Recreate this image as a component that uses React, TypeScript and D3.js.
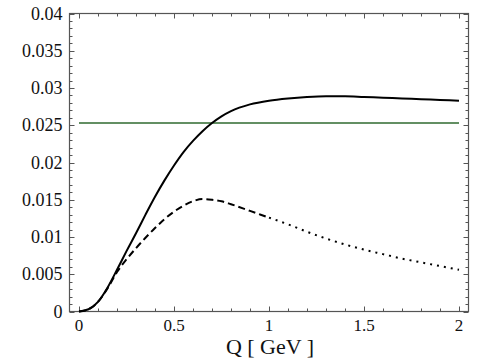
import React from "react";
import * as d3 from "d3";

// Q [GeV] sample points
const qValues = [0, 0.05, 0.1, 0.15, 0.2, 0.25, 0.3, 0.35, 0.4, 0.45, 0.5, 0.55, 0.6, 0.65, 0.7, 0.75, 0.8, 0.9, 1.0, 1.1, 1.2, 1.3, 1.4, 1.5, 1.6, 1.7, 1.8, 1.9, 2.0];
// solid curve
const solidValues = [0, 0.0003, 0.0013, 0.0032, 0.0056, 0.0081, 0.0105, 0.0130, 0.0154, 0.0176, 0.0196, 0.0214, 0.0229, 0.0242, 0.0253, 0.0262, 0.0269, 0.0278, 0.0283, 0.0286, 0.0288, 0.0289, 0.0289, 0.0288, 0.0287, 0.0286, 0.0285, 0.0284, 0.0283];
// dashed (Q <= 1) / dotted (Q >= 1) curve
const lowerValues = [0, 0.0003, 0.0013, 0.0031, 0.0053, 0.0070, 0.0085, 0.0099, 0.0112, 0.0124, 0.0134, 0.0142, 0.0148, 0.0151, 0.0150, 0.0148, 0.0144, 0.0135, 0.0126, 0.0117, 0.0107, 0.0098, 0.0090, 0.0083, 0.0077, 0.0071, 0.0066, 0.0061, 0.0056];
const dashedEnd = 1.0;
// horizontal reference level
const refLevel = 0.0253;

const xTicks = [0, 0.5, 1, 1.5, 2];
const xTickLabels = ["0", "0.5", "1", "1.5", "2"];
const yTicks = [0, 0.005, 0.01, 0.015, 0.02, 0.025, 0.03, 0.035, 0.04];
const yTickLabels = ["0", "0.005", "0.01", "0.015", "0.02", "0.025", "0.03", "0.035", "0.04"];
const xLabel = "Q [ GeV ]";

const W = 484;
const H = 360;
const frame = { left: 69.5, right: 468.5, top: 13.5, bottom: 311.5 };

const App = () => {
  const svgRef = React.useRef<SVGSVGElement>(null);

  React.useEffect(() => {
    const x = d3.scaleLinear().domain([-0.05, 2.05]).range([frame.left, frame.right]);
    const y = d3.scaleLinear().domain([0, 0.04]).range([frame.bottom, frame.top]);

    const svg = d3.select(svgRef.current);
    svg.selectAll("*").remove();

    const font = "Liberation Serif, Times New Roman, Times, serif";
    const frameColor = "#555";

    // minor ticks every 0.1 in Q and 0.001 in y, major every 5th
    const xMinor = d3.range(0, 2.05, 0.1);
    const yMinor = d3.range(0, 0.0405, 0.001);

    const tickG = svg.append("g").attr("stroke", frameColor).attr("stroke-width", 1);
    xMinor.forEach((v, i) => {
      const len = i % 5 === 0 ? 5 : 3;
      const px = Math.round(x(v)) + 0.5;
      tickG.append("line").attr("x1", px).attr("x2", px).attr("y1", frame.bottom).attr("y2", frame.bottom - len);
      tickG.append("line").attr("x1", px).attr("x2", px).attr("y1", frame.top).attr("y2", frame.top + len);
    });
    yMinor.forEach((v, i) => {
      const len = i % 5 === 0 ? 5 : 3;
      const py = Math.round(y(v)) + 0.5;
      tickG.append("line").attr("x1", frame.left).attr("x2", frame.left + len).attr("y1", py).attr("y2", py);
      tickG.append("line").attr("x1", frame.right).attr("x2", frame.right - len).attr("y1", py).attr("y2", py);
    });

    // frame
    svg
      .append("rect")
      .attr("x", frame.left)
      .attr("y", frame.top)
      .attr("width", frame.right - frame.left)
      .attr("height", frame.bottom - frame.top)
      .attr("fill", "none")
      .attr("stroke", frameColor)
      .attr("stroke-width", 1.2);

    // tick labels
    svg
      .append("g")
      .selectAll("text")
      .data(xTicks)
      .enter()
      .append("text")
      .attr("x", (d) => x(d))
      .attr("y", 330.5)
      .attr("text-anchor", "middle")
      .style("font-family", font)
      .style("font-size", "17px")
      .attr("fill", "#111")
      .text((d, i) => xTickLabels[i]);

    svg
      .append("g")
      .selectAll("text")
      .data(yTicks)
      .enter()
      .append("text")
      .attr("x", 62.5)
      .attr("y", (d) => y(d) + 6)
      .attr("text-anchor", "end")
      .style("font-family", font)
      .style("font-size", "18px")
      .attr("fill", "#111")
      .text((d, i) => yTickLabels[i]);

    svg
      .append("text")
      .attr("x", 270)
      .attr("y", 354)
      .attr("text-anchor", "middle")
      .style("font-family", font)
      .style("font-size", "22px")
      .attr("fill", "#111")
      .text(xLabel);

    // reference level
    svg
      .append("line")
      .attr("x1", x(0))
      .attr("x2", x(2))
      .attr("y1", y(refLevel))
      .attr("y2", y(refLevel))
      .attr("stroke", "#2f6a2f")
      .attr("stroke-width", 1.5);

    const line = d3
      .line<[number, number]>()
      .x((d) => x(d[0]))
      .y((d) => y(d[1]))
      .curve(d3.curveMonotoneX);

    const solid: [number, number][] = qValues.map((q, i) => [q, solidValues[i]]);
    const lower: [number, number][] = qValues.map((q, i) => [q, lowerValues[i]]);

    svg
      .append("path")
      .attr("d", line(lower.filter((d) => d[0] <= dashedEnd)))
      .attr("fill", "none")
      .attr("stroke", "#000")
      .attr("stroke-width", 2)
      .attr("stroke-dasharray", "7,4");

    svg
      .append("path")
      .attr("d", line(lower.filter((d) => d[0] >= dashedEnd)))
      .attr("fill", "none")
      .attr("stroke", "#000")
      .attr("stroke-width", 2)
      .attr("stroke-dasharray", "2,5");

    svg
      .append("path")
      .attr("d", line(solid))
      .attr("fill", "none")
      .attr("stroke", "#000")
      .attr("stroke-width", 2);
  }, []);

  return (
    <svg
      ref={svgRef}
      width={W}
      height={H}
      style={{ position: "absolute", left: 0, top: 0, background: "#fff" }}
    />
  );
};

export default App;
